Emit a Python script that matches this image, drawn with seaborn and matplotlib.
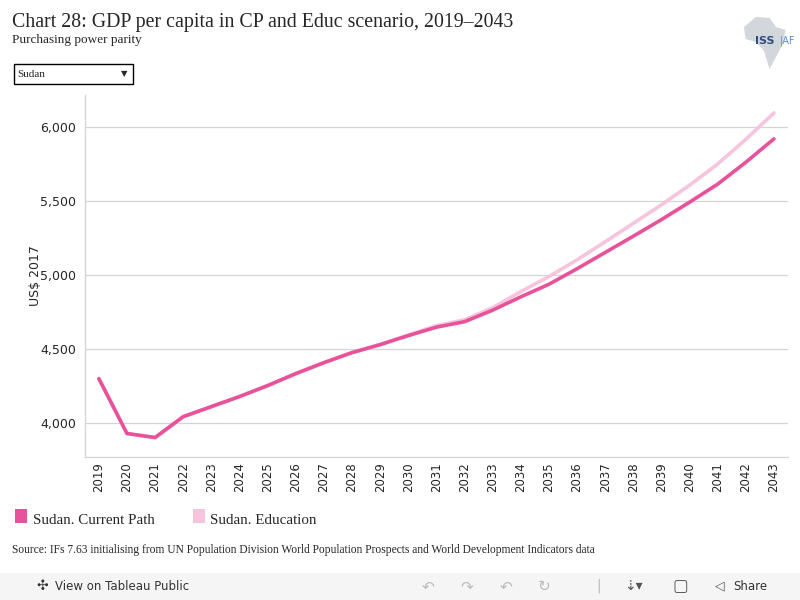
import pandas as pd
import seaborn as sns
import matplotlib.pyplot as plt
from matplotlib.patches import Rectangle, Polygon
from matplotlib.ticker import FuncFormatter, MultipleLocator

years = list(range(2019, 2044))
current_path = [4297, 3926, 3899, 4040, 4108, 4176, 4250, 4331, 4405, 4473,
                4527, 4588, 4645, 4682, 4760, 4850, 4935, 5040, 5150, 5260,
                5372, 5490, 5612, 5760, 5918]
education = [4297, 3926, 3899, 4040, 4108, 4176, 4250, 4331, 4405, 4473,
             4528, 4592, 4655, 4695, 4777, 4885, 4987, 5100, 5222, 5347,
             5472, 5605, 5748, 5915, 6093]
series_names = ["Sudan. Current Path", "Sudan. Education"]
colors = ["#E8529A", "#F6C4DC"]

df = pd.DataFrame({
    "Year": years * 2,
    "GDP": current_path + education,
    "Scenario": [series_names[0]] * len(years) + [series_names[1]] * len(years),
})

sns.set_style("white")
plt.rcParams["font.family"] = ["DejaVu Sans"]

fig = plt.figure(figsize=(8, 6), dpi=100)
ax = fig.add_axes([0.106, 0.239, 0.879, 0.603])

# education first so the current path sits on top
sns.lineplot(data=df[df["Scenario"] == series_names[1]], x="Year", y="GDP",
             color=colors[1], linewidth=2.6, ax=ax, legend=False)
sns.lineplot(data=df[df["Scenario"] == series_names[0]], x="Year", y="GDP",
             color=colors[0], linewidth=2.6, ax=ax, legend=False)

ax.set_xlim(2018.5, 2043.5)
ax.set_ylim(3770, 6216)
ax.yaxis.set_major_locator(MultipleLocator(500))
ax.yaxis.set_major_formatter(FuncFormatter(lambda v, p: f"{int(v):,}"))
ax.set_xticks(years)
ax.set_xticklabels([str(y) for y in years], rotation=90, fontsize=8.5)
ax.set_xticks([y + 0.5 for y in years[:-1]], minor=True)
ax.tick_params(axis="x", which="major", length=0, pad=4)
ax.tick_params(axis="x", which="minor", length=4, color="#E6E6E6", width=0.8)
ax.tick_params(axis="y", length=0, labelsize=9, pad=6)
ax.grid(axis="y", color="#D4D4D4", linewidth=0.9)
ax.set_xlabel("")
ax.set_ylabel("US$ 2017", fontsize=9, labelpad=-1)
for s in ["top", "right"]:
    ax.spines[s].set_visible(False)
for s in ["left", "bottom"]:
    ax.spines[s].set_color("#D4D4D4")
    ax.spines[s].set_linewidth(0.9)

serif = ["Liberation Serif", "DejaVu Serif"]
fig.text(0.015, 0.955, "Chart 28: GDP per capita in CP and Educ scenario, 2019\u20132043",
         family=serif, fontsize=14.3, va="baseline")
fig.text(0.015, 0.928, "Purchasing power parity", family=serif, fontsize=9.5, va="baseline")

# dropdown filter
fig.patches.append(Rectangle((0.017, 0.860), 0.149, 0.033, transform=fig.transFigure,
                             facecolor="white", edgecolor="black", linewidth=1))
fig.text(0.022, 0.876, "Sudan", family=serif, fontsize=8, va="center")
fig.text(0.155, 0.877, "\u25BC", fontsize=6, va="center", ha="center")

# logo (rough Africa outline + ISS text)
africa = [(0.930, 0.955), (0.945, 0.972), (0.962, 0.970), (0.970, 0.955), (0.982, 0.950),
          (0.978, 0.925), (0.970, 0.905), (0.962, 0.885), (0.955, 0.915), (0.945, 0.930),
          (0.932, 0.935)]
fig.patches.append(Polygon(africa, closed=True, transform=fig.transFigure,
                           facecolor="#D3D6DB", edgecolor="none"))
fig.text(0.944, 0.932, "ISS", fontsize=8, color="#2E4F7A", fontweight="bold", va="center")
fig.text(0.975, 0.932, "|AF", fontsize=7, color="#5B8AC6", va="center")

# legend
for i, name in enumerate(series_names):
    x0 = 0.019 + i * 0.222
    fig.patches.append(Rectangle((x0, 0.128), 0.015, 0.023, transform=fig.transFigure,
                                 facecolor=colors[i], edgecolor="none"))
    fig.text(x0 + 0.022, 0.126, name, family=serif, fontsize=10.8, va="baseline")

fig.text(0.015, 0.078, "Source: IFs 7.63 initialising from UN Population Division World Population "
         "Prospects and World Development Indicators data", family=serif, fontsize=8.3,
         va="baseline")

# toolbar strip
fig.patches.append(Rectangle((0, 0), 1, 0.045, transform=fig.transFigure,
                             facecolor="#F5F5F5", edgecolor="none"))
fig.text(0.069, 0.023, "View on Tableau Public", fontsize=8.5, color="#333333", va="center")
fig.text(0.053, 0.023, "\u2723", fontsize=10, color="#333333", va="center", ha="center")
for xi, g in zip([0.535, 0.583, 0.632, 0.680], ["\u21B6", "\u21B7", "\u21B6", "\u21BB"]):
    fig.text(xi, 0.023, g, fontsize=11, color="#BBBBBB", va="center", ha="center")
fig.text(0.745, 0.023, "|", fontsize=10, color="#BBBBBB", va="center")
fig.text(0.792, 0.023, "\u21E3\u25BE", fontsize=10, color="#555555", va="center", ha="center")
fig.text(0.850, 0.023, "\u25A2", fontsize=12, color="#555555", va="center", ha="center")
fig.text(0.900, 0.023, "\u25C1", fontsize=9, color="#555555", va="center", ha="center")
fig.text(0.917, 0.023, "Share", fontsize=8.5, color="#333333", va="center")

fig.savefig("out.png", dpi=100)
